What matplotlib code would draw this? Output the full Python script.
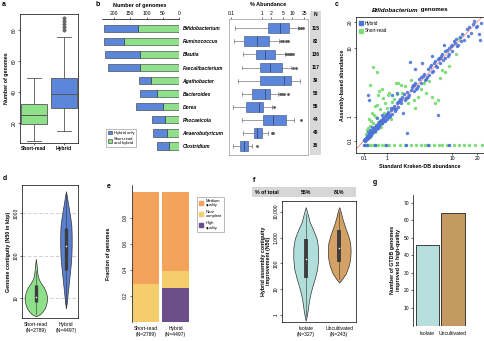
import numpy as np
import matplotlib
matplotlib.use("Agg")
import matplotlib.pyplot as plt
from matplotlib.patches import Patch, Rectangle
from matplotlib.lines import Line2D
from matplotlib import transforms

plt.rcParams['font.family'] = ['Liberation Sans', 'DejaVu Sans']
plt.rcParams['font.size'] = 3.8
plt.rcParams['axes.linewidth'] = 0.5

W, H = 485, 341
GREEN = '#8fe08b'
BLUE = '#5b86d9'
DARK = '#333333'

# a: genomes per sample
a_groups = ['Short-read', 'Hybrid']
a_whislo = [8, 15]
a_q1 = [19, 30]
a_med = [25, 39]
a_q3 = [32, 49]
a_whishi = [49, 76]
a_fliers = [[], [80, 82, 84, 86, 88]]

# b: genera
genera = ['Bifidobacterium', 'Ruminococcus', 'Blautia', 'Faecalibacterium', 'Agathobacter',
          'Bacteroides', 'Dorea', 'Phocaeicola', 'Anaerobutyricum', 'Clostridium']
n_shared = [127, 169, 120, 120, 87, 67, 50, 43, 38, 31]
n_hybrid_only = [104, 62, 108, 97, 36, 53, 83, 39, 41, 36]
n_genomes = [115, 82, 136, 117, 39, 58, 55, 44, 49, 36]
ab_whislo = [0.13, 0.12, 0.24, 0.22, 0.17, 0.22, 0.11, 0.23, 0.24, 0.115]
ab_q1 = [1.6, 0.26, 0.64, 0.86, 0.86, 0.46, 0.30, 1.1, 0.55, 0.19]
ab_med = [3.9, 0.67, 1.25, 1.9, 5.3, 1.25, 0.82, 2.35, 0.72, 0.26]
ab_q3 = [7.9, 1.75, 2.8, 4.8, 9.4, 1.85, 1.1, 6.1, 1.02, 0.36]
ab_whishi = [15.5, 3.7, 5.7, 9.4, 17.6, 3.4, 2.2, 11.4, 1.6, 0.46]
ab_fliers = [[17.5, 20, 23], [4.4, 5.2, 6.2, 7.3], [6.4, 7.3, 8.3, 9.5, 11], [10.6, 13.5], [],
             [3.9, 4.6, 5.5, 7.3], [2.5], [20], [2.1, 2.35], [0.7]]

# c: Bifidobacterium abundance, kraken vs assembly
c_hyb_x = [0.10, 0.12, 0.13, 0.15, 0.16, 0.18, 0.20, 0.21, 0.23, 0.25, 0.26, 0.28, 0.30, 0.32, 0.34,
           0.36, 0.38, 0.40, 0.42, 0.45, 0.47, 0.50, 0.30, 0.35, 0.22,
           0.55, 0.60, 0.62, 0.68, 0.72, 0.78, 0.82, 0.88, 0.92, 1.00, 1.05, 1.10, 1.20, 1.30, 1.40,
           1.50, 1.60, 1.70, 1.80, 1.90, 2.00, 2.20, 2.40, 2.60, 2.80, 3.00, 0.55, 0.75, 1.30, 1.60,
           3.2, 3.4, 3.6, 3.9, 4.2, 4.5, 4.8, 5.0, 5.3, 5.6, 6.0, 6.3, 6.7, 7.0, 7.5, 8.0, 8.5, 9.0,
           9.5, 10.0, 10.8, 11.5, 12.5, 14.0, 15.0, 17.0, 18.0, 19.5, 21.0, 21.5, 16.0, 5.5, 4.0, 7.8,
           0.14, 0.19, 0.24, 0.29, 0.33, 0.44, 0.52, 0.58, 0.66, 0.85, 0.98, 1.15, 1.25, 1.45, 1.75,
           2.1, 2.5, 2.9, 3.3, 3.8, 4.4, 5.2, 5.9, 6.5, 7.2, 8.2, 9.2, 10.5, 11.0, 13.0,
           0.11, 0.17, 0.27, 0.31, 0.37, 0.41, 0.48, 0.53, 0.57, 0.63, 0.70, 0.76, 0.80, 0.90, 0.95,
           1.02, 1.08, 1.18, 1.35, 1.55, 1.65, 1.85, 2.3, 2.7, 3.1, 3.5, 4.1, 4.7, 5.4, 6.2,
           6.9, 7.7, 8.7, 9.8, 11.8, 12.8, 15.5, 18.5, 20.0, 22.0,
           2.65, 0.21, 0.26, 2.07, 6.6, 2.35, 3.2]
c_hyb_y = [0.11, 0.10, 0.15, 0.13, 0.18, 0.16, 0.22, 0.19, 0.25, 0.22, 0.30, 0.26, 0.33, 0.28, 0.38,
           0.33, 0.45, 0.36, 0.50, 0.40, 0.55, 0.47, 0.45, 0.55, 0.35,
           0.60, 0.52, 0.75, 0.65, 0.85, 0.70, 0.95, 0.80, 1.05, 0.90, 1.20, 1.00, 1.35, 1.15, 1.60,
           1.40, 1.80, 1.55, 2.10, 1.80, 2.30, 2.00, 2.70, 2.40, 3.20, 2.80, 0.95, 1.10, 2.40, 2.60,
           3.6, 3.1, 4.1, 3.6, 4.8, 4.1, 5.5, 4.6, 6.2, 5.2, 7.0, 5.8, 7.6, 6.5, 8.5, 7.6, 9.6, 8.4,
           10.5, 9.3, 11.5, 10.5, 13.5, 12.5, 16.5, 15.0, 19.0, 17.5, 14.5, 12.5, 17.5, 8.0, 6.5, 11.0,
           0.16, 0.24, 0.20, 0.35, 0.40, 0.48, 0.62, 0.50, 0.80, 0.78, 1.15, 1.05, 1.50, 1.30, 1.95,
           2.50, 2.30, 3.40, 3.00, 4.40, 4.0, 5.9, 6.6, 7.3, 8.0, 9.2, 10.0, 12.0, 12.8, 14.5,
           0.13, 0.15, 0.31, 0.27, 0.42, 0.46, 0.44, 0.58, 0.68, 0.58, 0.78, 0.70, 0.92, 0.84, 1.10,
           0.96, 1.25, 1.10, 1.50, 1.45, 1.90, 2.00, 2.20, 2.90, 3.40, 3.30, 4.50, 4.30, 5.00, 6.00,
           7.60, 7.20, 8.00, 10.8, 11.0, 12.0, 14.0, 20.5, 18.0, 19.5,
           6.8, 2.4, 2.0, 1.17, 1.08, 0.32, 5.5]
c_hyb_missing_x = [0.10, 0.18, 0.45, 0.95, 2.3, 4.8, 9.0]
c_sr_x = [0.40, 0.55, 0.285, 0.64, 0.75, 1.54, 1.69, 1.9, 2.2, 0.45, 0.65, 0.9, 1.0, 0.35, 0.25,
          0.5, 0.3, 0.2, 0.15, 0.45, 0.7, 1.2, 4.6, 5.4, 6.0, 6.6, 7.3, 8.1, 3.0, 3.5, 2.5, 9.0,
          11.0, 12.0, 0.8, 1.1, 1.4, 2.7, 0.6, 0.38,
          0.18, 0.22, 0.33, 0.42, 0.58, 0.85, 1.3, 1.6, 2.0, 2.4, 3.8, 4.2, 5.0, 1.05, 0.55, 0.27,
          7.0, 3.2]
c_sr_y = [5.9, 5.1, 3.4, 2.8, 2.95, 3.65, 3.57, 3.4, 3.3, 1.6, 1.4, 1.8, 1.5, 1.2, 0.9,
          1.0, 0.6, 0.45, 0.3, 0.35, 0.55, 0.9, 2.57, 2.28, 1.79, 2.0, 5.4, 5.1, 2.0, 2.3, 1.8, 6.0,
          8.5, 13.0, 2.2, 2.6, 2.1, 4.0, 2.4, 0.7,
          0.25, 0.5, 0.8, 1.1, 0.75, 1.2, 1.9, 2.5, 2.6, 2.2, 3.0, 3.6, 3.9, 2.4, 1.7, 0.2,
          4.2, 1.5]
c_sr_missing_x = [0.12, 0.15, 0.2, 0.25, 0.3, 0.38, 0.5, 0.6, 0.75, 0.9, 1.1, 1.4, 1.8, 2.2, 2.7,
                  3.3, 3.8, 4.4, 5.0, 5.8, 6.7, 7.5, 8.5, 10.5, 12.0, 14.0, 16.0, 19.0, 23.0]

# d: N50 (kbp) violins
d_groups = ['Short-read\n(N=2789)', 'Hybrid\n(N=4497)']
d_sr_levels = [3.8, 4.2, 5, 6, 7.5, 9, 11, 14, 18, 22, 28, 35, 45, 60, 85]
d_sr_density = [0, 0.35, 0.62, 0.82, 0.94, 1, 1, 0.91, 0.73, 0.5, 0.27, 0.16, 0.11, 0.07, 0]
d_hy_levels = [5.8, 8, 12, 20, 35, 60, 100, 180, 300, 500, 800, 1200, 1800, 2600, 3300]
d_hy_density = [0, 0.15, 0.27, 0.45, 0.64, 0.82, 0.95, 1, 1, 0.95, 0.76, 0.55, 0.33, 0.15, 0]
d_q1 = [8.3, 47]
d_med = [10.9, 172]
d_q3 = [20.6, 448]
d_whislo = [4.3, 6.5]
d_whishi = [45, 2800]

# e: quality fractions
e_groups = ['Short-read\n(N=2789)', 'Hybrid\n(N=4497)']
e_high = [0.0, 0.26]
e_near = [0.29, 0.13]
e_medium = [0.71, 0.61]

# f: contiguity improvement
f_groups = ['Isolate\n(N=327)', 'Uncultivated\n(N=243)']
f_pct = ['55%', '81%']
f_iso_levels = [0.6, 0.9, 1.5, 3, 6, 12, 25, 60, 150, 400, 900, 2000, 4000, 8000, 15000]
f_iso_density = [0, 0.08, 0.16, 0.24, 0.36, 0.52, 0.72, 0.92, 1, 1, 0.88, 0.6, 0.32, 0.16, 0]
f_unc_levels = [18, 25, 40, 80, 150, 300, 600, 1200, 2500, 5000, 10000, 15000]
f_unc_density = [0, 0.26, 0.57, 0.83, 0.96, 1, 0.96, 0.78, 0.52, 0.3, 0.13, 0]
f_q1 = [26, 115]
f_med = [143, 410]
f_q3 = [900, 1920]

# g: GTDB genomes improved
g_groups = ['Isolate', 'Uncultivated']
g_counts = [46, 64]

fig = plt.figure(figsize=(W / 100, H / 100), dpi=100)


def add_px_axes(left, top, right, bottom):
    return fig.add_axes([left / W, 1 - bottom / H, (right - left) / W, (bottom - top) / H])


def px_text(x, y, s, **kw):
    return fig.text(x / W, 1 - y / H, s, **kw)


def px_rect(left, top, right, bottom, color):
    fig.patches.append(Rectangle((left / W, 1 - bottom / H), (right - left) / W, (bottom - top) / H,
                                 transform=fig.transFigure, facecolor=color, edgecolor='none', zorder=0))


def small_ticks(ax):
    ax.tick_params(length=1.5, width=0.4, pad=1, labelsize=3.6)


def rotate_yticklabels(ax):
    ax.tick_params(axis='y', labelrotation=90)
    for lbl in ax.get_yticklabels():
        lbl.set_va('center')


def draw_violin(ax, pos, levels, density, halfwidth, color):
    dens = np.asarray(density) * halfwidth
    ax.fill_betweenx(levels, pos - dens, pos + dens, facecolor=color, edgecolor=DARK, lw=0.5, zorder=2)


for x, y, s in [(2, 5, 'a'), (96, 5, 'b'), (335, 5, 'c'), (3, 178, 'd'), (107, 186, 'e'),
                (253, 180, 'f'), (373, 182, 'g')]:
    px_text(x, y, s, fontsize=5, fontweight='bold', va='center', ha='left')

# ---- a
ax = add_px_axes(20, 14, 78, 143)
stats = [dict(whislo=a_whislo[i], q1=a_q1[i], med=a_med[i], q3=a_q3[i], whishi=a_whishi[i],
              fliers=a_fliers[i]) for i in range(2)]
bp = ax.bxp(stats, positions=[0, 1], widths=0.85, capwidths=0.45, patch_artist=True,
            boxprops=dict(linewidth=0.6, edgecolor='#555555'),
            medianprops=dict(color='#555555', linewidth=0.7),
            whiskerprops=dict(color='#555555', linewidth=0.6),
            capprops=dict(color='#555555', linewidth=0.6),
            flierprops=dict(marker='D', markersize=1.6, markerfacecolor='#666666',
                            markeredgecolor='#666666'))
for patch, c in zip(bp['boxes'], [GREEN, BLUE]):
    patch.set_facecolor(c)
ax.set_xlim(-0.46, 1.47)
ax.set_ylim(7, 90.6)
ax.set_yticks([20, 40, 60, 80])
ax.set_xticks([0, 1], a_groups, fontweight='bold')
small_ticks(ax)
rotate_yticklabels(ax)
ax.set_ylabel('Number of genomes', fontweight='bold', labelpad=1.5)

# ---- b bars
rows = np.arange(len(genera))
axb = add_px_axes(102, 19.3, 179, 152)
axb.barh(rows, n_shared, height=0.55, color=GREEN, edgecolor=DARK, linewidth=0.4)
axb.barh(rows, n_hybrid_only, left=n_shared, height=0.55, color=BLUE, edgecolor=DARK, linewidth=0.4)
axb.set_xlim(237, 0)
axb.set_ylim(9.46, -0.69)
axb.xaxis.tick_top()
axb.set_xticks([200, 150, 100, 50, 0])
for s in ['left', 'right', 'bottom']:
    axb.spines[s].set_visible(False)
axb.yaxis.tick_right()
axb.set_yticks(rows, genera, fontstyle='italic', fontweight='bold', fontsize=3.5)
small_ticks(axb)
axb.tick_params(axis='y', length=0, pad=2.5)
axb.legend(handles=[Patch(facecolor=BLUE, edgecolor=DARK, lw=0.4, label='Hybrid only'),
                    Patch(facecolor=GREEN, edgecolor=DARK, lw=0.4, label='Short-read\nand hybrid')],
           loc='lower left', bbox_to_anchor=(0.03, 0.02), fontsize=3.0, handlelength=0.9,
           handleheight=0.9, handletextpad=0.5, labelspacing=0.5, borderpad=0.45,
           fancybox=False, edgecolor='#888888', framealpha=1).get_frame().set_linewidth(0.4)
px_text(140, 5, 'Number of genomes', fontweight='bold', ha='center', va='center', fontsize=4)

# ---- b abundance boxes
axab = add_px_axes(229.5, 19, 308, 155)
axab.set_xscale('log')
ab_stats = [dict(whislo=ab_whislo[i], q1=ab_q1[i], med=ab_med[i], q3=ab_q3[i],
                 whishi=ab_whishi[i], fliers=ab_fliers[i]) for i in range(len(genera))]
bpab = axab.bxp(ab_stats, positions=rows, widths=0.75, capwidths=0.3, orientation='horizontal',
                patch_artist=True,
                boxprops=dict(linewidth=0.4, edgecolor='#3a4f7a', facecolor='#5b86d9'),
                medianprops=dict(color='#2b3d66', linewidth=0.5),
                whiskerprops=dict(color='#555555', linewidth=0.4),
                capprops=dict(color='#555555', linewidth=0.4),
                flierprops=dict(marker='o', markersize=1.0, markerfacecolor='#555555',
                                markeredgecolor='#555555'))
axab.set_xlim(0.086, 33.5)
axab.set_ylim(9.69, -0.71)
axab.xaxis.tick_top()
axab.set_xticks([0.1, 1, 2, 5, 10, 25], ['0.1', '1', '2', '5', '10', '25'])
axab.xaxis.set_minor_locator(matplotlib.ticker.NullLocator())
axab.set_yticks([])
small_ticks(axab)
for s in axab.spines.values():
    s.set_color('#999999')
px_text(268, 5, '% Abundance', fontweight='bold', ha='center', va='center', fontsize=4)
px_rect(310, 11, 321, 155, '#d9d9d9')
px_text(315.5, 15, 'N', fontweight='bold', ha='center', va='center', fontsize=3.6)
ntrans = transforms.blended_transform_factory(fig.transFigure, axab.transData)
for r, n in zip(rows, n_genomes):
    fig.text(315.5 / W, r, str(n), transform=ntrans, fontweight='bold', ha='center', va='center',
             fontsize=3.4)

# ---- c
axc = add_px_axes(356, 17, 484, 153)


def fwd(v):
    return np.log10(np.clip(np.asarray(v, dtype=float), -0.99, None) + 1)


def inv(v):
    return 10 ** np.asarray(v, dtype=float) - 1


axc.set_xscale('function', functions=(fwd, inv))
axc.set_yscale('function', functions=(fwd, inv))
axc.plot([-0.2, 30], [-0.2, 30], color='#e8736c', lw=0.5, zorder=1)
hy_col = '#4c74d8'
sr_col = '#7fdc7a'
axc.scatter(c_sr_x, c_sr_y, s=6, color=sr_col, lw=0, zorder=2)
axc.scatter(c_sr_missing_x, np.zeros(len(c_sr_missing_x)), s=6, color=sr_col, lw=0, zorder=2)
axc.scatter(c_hyb_x, c_hyb_y, s=6, color=hy_col, lw=0, zorder=3, alpha=0.9)
axc.scatter(c_hyb_missing_x, np.zeros(len(c_hyb_missing_x)), s=6, color=hy_col, lw=0, zorder=3)
axc.set_xlim(-0.107, 24.1)
axc.set_ylim(-0.189, 22.8)
cticks = [0.1, 1, 10, 20]
axc.set_xticks(cticks, ['0.1', '1', '10', '20'])
axc.set_yticks(cticks, ['0.1', '1', '10', '20'])
axc.xaxis.set_minor_locator(matplotlib.ticker.NullLocator())
axc.yaxis.set_minor_locator(matplotlib.ticker.NullLocator())
small_ticks(axc)
rotate_yticklabels(axc)
axc.set_xlabel('Standard Kraken-DB abundance', fontweight='bold', labelpad=1.5)
axc.set_ylabel('Assembly-based abundance', fontweight='bold', labelpad=1.5)
axc.legend(handles=[Line2D([], [], ls='', marker='s', markersize=2.2, color=hy_col, label='Hybrid'),
                    Line2D([], [], ls='', marker='s', markersize=2.2, color=sr_col, label='Short-read')],
           loc='upper left', frameon=False, fontsize=3.3, handletextpad=0.3, labelspacing=0.6,
           borderaxespad=0.4, handlelength=0.8)
t1 = px_text(372, 10, 'Bifidobacterium', fontweight='bold', fontstyle='italic', va='center',
             ha='left', fontsize=4.4)
axc.annotate(' genomes', xy=(1, 0.5), xycoords=t1, va='center', ha='left', fontweight='bold',
             fontsize=4.4, annotation_clip=False)

# ---- d
axd = add_px_axes(21.7, 185, 78.3, 318.3)
axd.set_yscale('log')
for yl in [10, 100, 1000]:
    axd.axhline(yl, color='#bdbdbd', ls=(0, (5, 3)), lw=0.5, zorder=0)
draw_violin(axd, 0, d_sr_levels, d_sr_density, 0.37, GREEN)
draw_violin(axd, 1, d_hy_levels, d_hy_density, 0.19, '#5a80d2')
for i in range(2):
    axd.plot([i, i], [d_whislo[i], d_whishi[i]], color=DARK, lw=0.4, zorder=3)
    axd.plot([i, i], [d_q1[i], d_q3[i]], color='#3d3d3d', lw=2.4, solid_capstyle='butt', zorder=4)
    axd.scatter([i], [d_med[i]], s=1.2, color='white', zorder=5, lw=0)
axd.set_xlim(-0.47, 1.41)
axd.set_ylim(3.4, 4650)
axd.set_yticks([10, 100, 1000], ['10', '100', '1000'])
axd.yaxis.set_minor_locator(matplotlib.ticker.NullLocator())
axd.set_xticks([0, 1], d_groups)
small_ticks(axd)
axd.tick_params(axis='x', length=0, pad=3)
rotate_yticklabels(axd)
axd.set_ylabel('Genome contiguity (N50 in kbp)', fontweight='bold', labelpad=1.5)

# ---- e
axe = add_px_axes(131.7, 185, 189.5, 322)
e_x = [0, 1]
c_med, c_near, c_high = '#f4a35c', '#f5ce6b', '#6b4e8a'
axe.bar(e_x, e_high, width=0.9, color=c_high)
axe.bar(e_x, e_near, bottom=e_high, width=0.9, color=c_near)
axe.bar(e_x, e_medium, bottom=np.add(e_high, e_near), width=0.9, color=c_med)
axe.set_xlim(-0.48, 1.47)
axe.set_ylim(0, 1.05)
for s in ['top', 'right', 'bottom']:
    axe.spines[s].set_visible(False)
axe.set_yticks([0.2, 0.4, 0.6, 0.8])
axe.set_xticks(e_x, e_groups)
small_ticks(axe)
axe.tick_params(axis='x', length=0, pad=3)
rotate_yticklabels(axe)
axe.set_ylabel('Fraction of genomes', fontweight='bold', labelpad=9)
axe.legend(handles=[Patch(color=c_med, label='Medium\nquality'), Patch(color=c_near, label='Near\ncomplete'),
                    Patch(color=c_high, label='High\nquality')],
           loc='upper left', bbox_to_anchor=(1.09, 0.93), fontsize=3.0, handlelength=1.1,
           handleheight=1.1, handletextpad=0.5, labelspacing=0.6, borderpad=0.5,
           fancybox=False, edgecolor='#888888', framealpha=1).get_frame().set_linewidth(0.4)

# ---- f
px_rect(252, 187.3, 356, 197.3, '#d6d6d6')
px_text(255, 192.3, '% of total', fontweight='bold', va='center', ha='left', fontsize=3.8)
axf = add_px_axes(281.7, 200.7, 356, 321.7)
axf.set_yscale('log')
f_pos = [0, 1]
draw_violin(axf, 0, f_iso_levels, f_iso_density, 0.37, '#b0dedb')
draw_violin(axf, 1, f_unc_levels, f_unc_density, 0.34, '#d3a264')
ftrans = transforms.blended_transform_factory(axf.transData, fig.transFigure)
for i in range(2):
    lv = [f_iso_levels, f_unc_levels][i]
    axf.plot([i, i], [lv[1], lv[-2]], color=DARK, lw=0.4, zorder=3)
    axf.plot([i, i], [f_q1[i], f_q3[i]], color='#3d3d3d', lw=2.8, solid_capstyle='butt', zorder=4)
    axf.scatter([i], [f_med[i]], s=1.2, color='white', zorder=5, lw=0)
    fig.text(f_pos[i], 1 - 192.3 / H, f_pct[i], transform=ftrans, fontweight='bold', ha='center',
             va='center', fontsize=3.8)
axf.set_xlim(-0.716, 1.5)
axf.set_ylim(0.55, 26600)
axf.set_yticks([1, 10, 100, 1000, 10000], ['1', '10', '100', '1,000', '10,000'])
axf.yaxis.set_minor_locator(matplotlib.ticker.NullLocator())
axf.set_xticks(f_pos, f_groups)
small_ticks(axf)
axf.tick_params(axis='x', length=0, pad=3)
rotate_yticklabels(axf)
axf.set_ylabel('Hybrid assembly contiguity\nimprovement (N50)', fontweight='bold', labelpad=1.5,
               linespacing=1.1)

# ---- g
axg = add_px_axes(412.7, 195, 470, 325.6)
axg.bar([0, 1], g_counts, width=0.9, color=['#b5dedc', '#c49a63'], edgecolor='#222222', lw=0.6)
axg.set_xlim(-0.56, 1.66)
axg.set_ylim(0, 74.4)
for s in ['top', 'right', 'bottom']:
    axg.spines[s].set_visible(False)
axg.set_yticks([10, 20, 30, 40, 50, 60, 70])
axg.set_xticks([0, 1], g_groups)
small_ticks(axg)
axg.tick_params(axis='x', length=0, pad=4)
axg.set_ylabel('Number of GTDB genomes\nimproved to high-quality', fontweight='bold', labelpad=2,
               linespacing=1.1)

fig.savefig('out.png', dpi=100)
